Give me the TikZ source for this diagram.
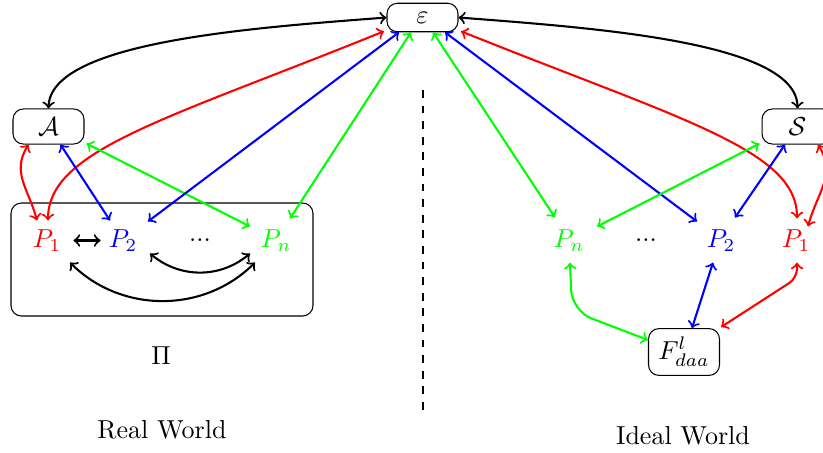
\documentclass[tikz,border=0pt]{standalone}
\usetikzlibrary{calc}
\begin{document}
\begin{tikzpicture}[x=0.3846pt,y=0.3846pt,
  box/.style={draw,rounded corners=4pt,minimum width=27.3pt,inner sep=3.33pt},
  party/.style={inner sep=3.33pt},
  conn/.style={<->,thick},
  frame/.style={draw,rounded corners=4pt}]
\useasboundingbox (0,0) rectangle (823,-452);
\clip (0,0) rectangle (823,-452);

% top-level nodes
\node[box] (eps) at (422.5,-17.5) {$\varepsilon$};
\node[box] (A) at (48.5,-126.5) {$\mathcal{A}$};
\node[box] (S) at (797.5,-126.5) {$\mathcal{S}$};
\node[box] (F) at (684,-352) {$F^{l}_{daa}$};

% real world
\draw[frame] (11,-203) rectangle (313,-316);
\node[party,red] (P1) at (47,-240.5) {$P_1$};
\node[party,blue] (P2) at (123,-240.5) {$P_2$};
\node[party] (dl) at (200,-240) {...};
\node[party,green] (Pn) at (276,-240.5) {$P_n$};
\node (pi) at (161,-355.5) {$\Pi$};
\node (rw) at (162,-430) {Real World};

% ideal world
\node[party,green] (Qn) at (569,-240.5) {$P_n$};
\node[party] (dr) at (646,-240) {...};
\node[party,blue] (Q2) at (721,-240.5) {$P_2$};
\node[party,red] (Q1) at (796,-240.5) {$P_1$};
\node (iw) at (683,-436) {Ideal World};

% separator
\coordinate (sepT) at (423,-90);
\coordinate (sepB) at (423,-410);
\draw[thick,dashed] (sepT) -- (sepB);

% black links env <-> adversary / simulator
\draw[conn] (eps.west) .. controls (250,-28) and (50,-42) .. (A.north);
\draw[conn] (eps.east) .. controls (595,-28) and (797,-42) .. (S.north);

% real world links
\draw[conn] ($(P1.east)+(3,0)$) -- ($(P2.west)+(1,0)$);
\draw[conn,red] ($(eps.south)+(-38.5,1)$) .. controls (165,-120) and (48,-150) .. ($(P1.north)+(1,0)$);
\draw[conn,red] ($(A.south)+(-20,0)$) to[out=238,in=105,looseness=1.1] ($(P1.north)+(-10,0)$);
\draw[conn,blue] ($(A.south)+(12,0)$) -- ($(P2.north)+(-13,0)$);
\draw[conn,green] ($(A.south east)+(2,1)$) -- ($(Pn.north)+(-26,-6)$);
\draw[conn,blue] ($(eps.south)+(-23.5,0)$) -- ($(P2.north)+(25,-1)$);
\draw[conn,green] ($(eps.south)+(-11.5,0)$) -- ($(Pn.north)+(14,2)$);
\draw[conn] ($(P2)+(27,-13)$) to[out=-40,in=-140] ($(Pn)+(-26,-13)$);
\draw[conn] ($(P1)+(23,-22)$) to[out=-45,in=-135] ($(Pn)+(-21,-22)$);

% ideal world links
\draw[conn,green] ($(eps.south)+(10.5,0)$) -- ($(Qn.north)+(-14,3)$);
\draw[conn,blue] ($(eps.south)+(22.5,0)$) -- ($(Q2.north)+(-24,-1)$);
\draw[conn,red] ($(eps.south)+(38.5,1)$) .. controls (682,-120) and (797,-150) .. ($(Q1.north)+(1,2)$);
\draw[conn,green] ($(S.south west)+(-2,1)$) -- ($(Qn.north)+(28,-6)$);
\draw[conn,blue] ($(S.south)+(-12.5,0)$) -- ($(Q2.north)+(14,3)$);
\draw[conn,red] ($(S.south)+(20.5,0)$) to[out=-58,in=75,looseness=1.1] ($(Q1.north)+(12,-6)$);
\coordinate (gc) at (572,-311);
\coordinate (rc) at (797,-278);
\draw[conn,green,rounded corners=8pt] ($(Qn.south)+(1,-2)$) -- (gc) -- ($(F.west)+(0,12)$);
\draw[conn,blue] ($(Q2.south)+(-8,-2)$) -- ($(F.north)+(8,0)$);
\draw[conn,red,rounded corners=3.5pt] ($(Q1.south)+(1,-2)$) -- (rc) -- ($(F.north east)+(1,1)$);
\end{tikzpicture}
\end{document}
